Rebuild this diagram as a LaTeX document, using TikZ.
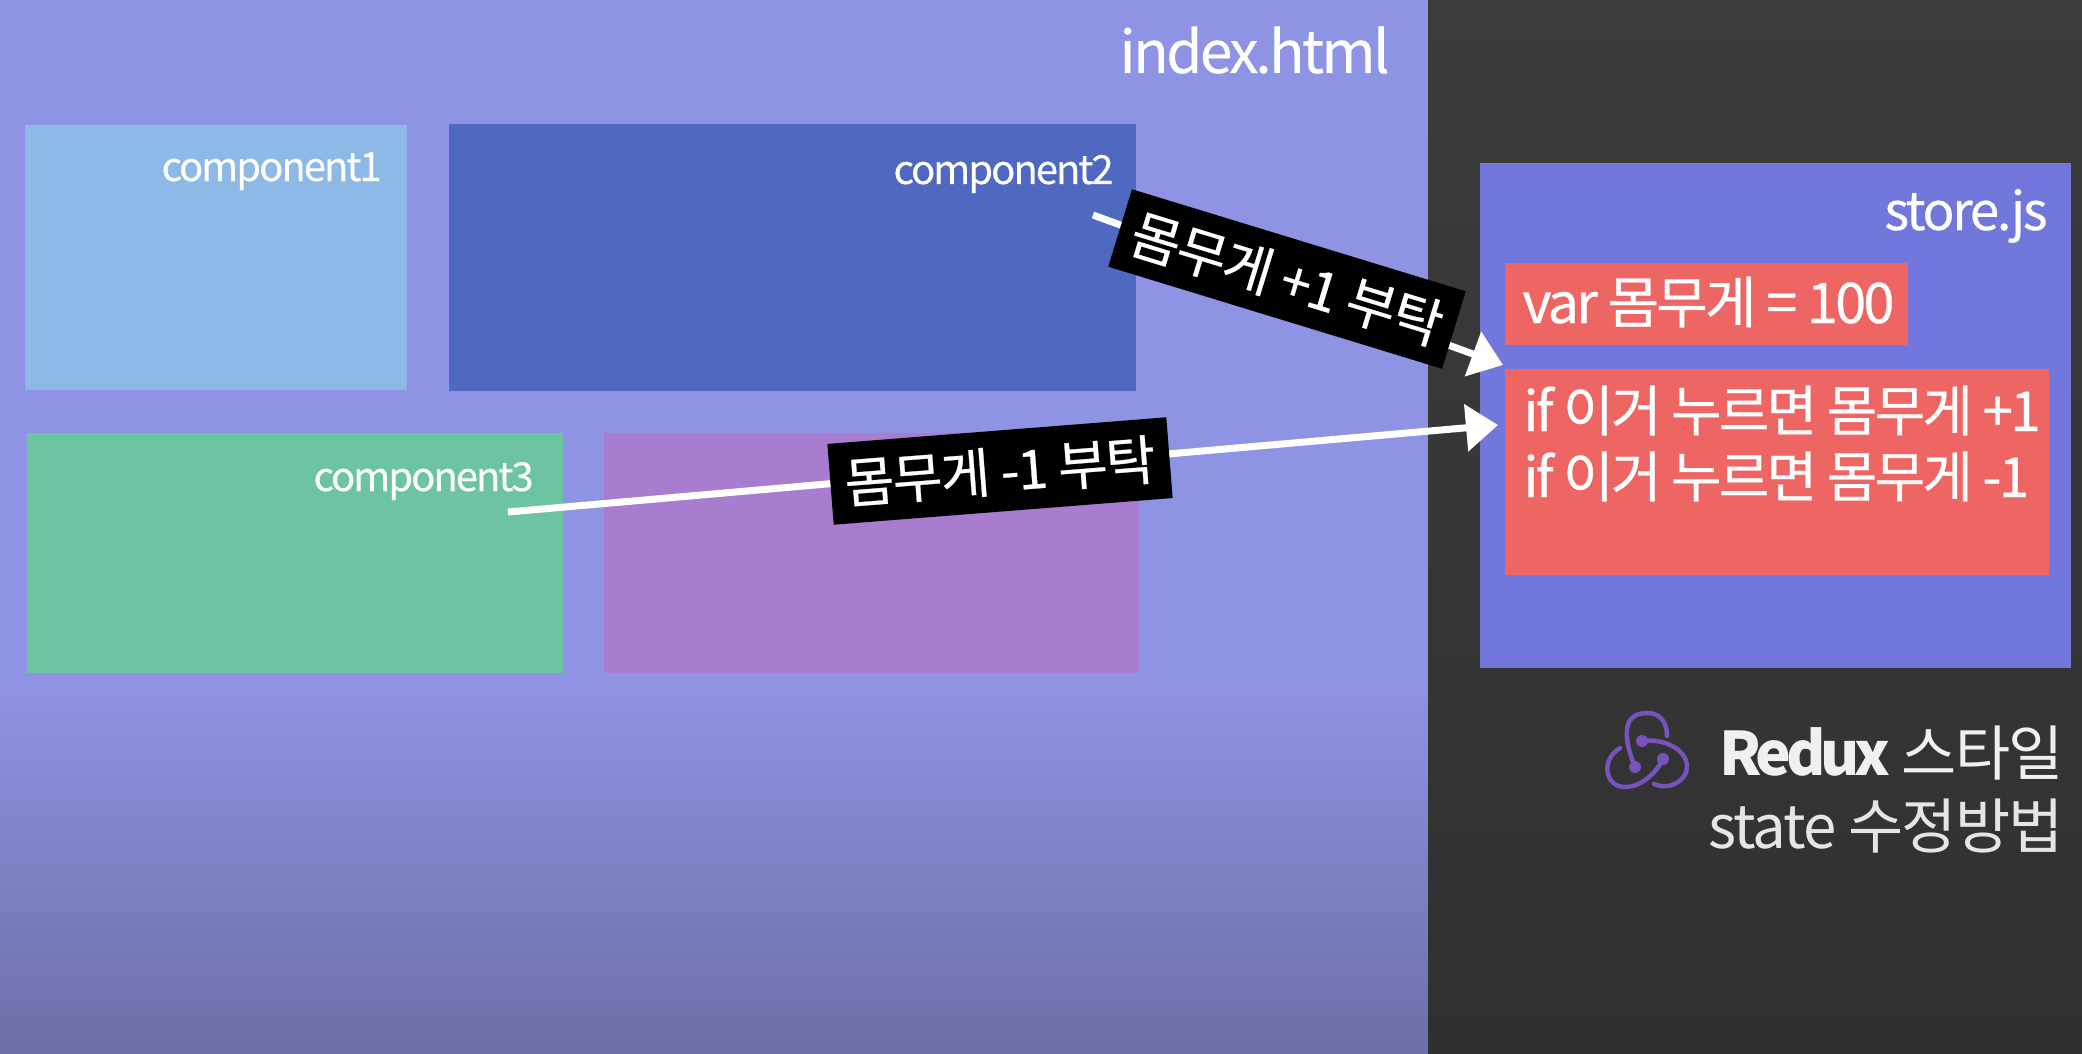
\documentclass[tikz,border=0pt]{standalone}
\usepackage{fontspec}
\setmainfont{Noto Sans CJK KR}[LetterSpace=-3]
\newfontfamily\fontName{Noto Sans CJK KR}[LetterSpace=-5,FakeBold=0.25]
\newfontfamily\fontTitle{Noto Sans CJK KR}[LetterSpace=-4.5,FakeBold=0.25]
\newfontfamily\fontCode{Noto Sans CJK KR}[LetterSpace=-5.1,FakeBold=0.4]
\newfontfamily\fontAsk{Noto Sans CJK KR}[LetterSpace=-3,FakeBold=0.5]
\newfontfamily\fontRedux{Noto Sans CJK KR}[LetterSpace=-9]
\usepackage{xcolor}
\definecolor{cPage}{HTML}{8F93E3}
\definecolor{cPageLow}{HTML}{6E6EA6}
\definecolor{cDark}{HTML}{3C3C3B}
\definecolor{cDarkLow}{HTML}{303030}
\definecolor{cOne}{HTML}{8CB9E5}
\definecolor{cTwo}{HTML}{5069C0}
\definecolor{cThree}{HTML}{6DC4A0}
\definecolor{cFour}{HTML}{A87CCF}
\definecolor{cStore}{HTML}{7277DC}
\definecolor{cRed}{HTML}{EE6664}
\definecolor{cRedux}{HTML}{7A52C0}
\usetikzlibrary{arrows.meta}
\tikzset{
  node-box/.style={inner sep=0pt,outer sep=0pt},
  node-name/.style={text=white,font=\fontName\fontsize{20}{20}\selectfont,anchor=base east,inner sep=0pt},
  node-title/.style={text=white,font=\fontTitle\fontsize{29.3}{29.3}\selectfont,anchor=base east,inner sep=0pt},
  node-code/.style={text=white,font=\fontCode\fontsize{27.5}{27.5}\selectfont,anchor=base west,inner sep=0pt},
  node-ask/.style={fill=black,text=white,font=\fontAsk\fontsize{27}{27}\selectfont,inner sep=0pt,
    minimum width=172pt,minimum height=40.5pt},
  node-side/.style={text=#1,font=\fontsize{30}{30}\selectfont,anchor=base east,inner sep=0pt},
  arrow/.style={-{Triangle[length=16pt,width=23pt]},line width=3.5pt,draw=white},
  logo/.style={draw=cRedux,line width=2.2pt,line cap=round},
}
\begin{document}
\begin{tikzpicture}[x=0.5pt,y=-0.5pt]
  \useasboundingbox (0,0) rectangle (2082,1054);
  % background
  \fill[cPage] (0,0) rectangle (1428,680);
  \shade[top color=cPage,bottom color=cPageLow] (0,680) rectangle (1428,1054);
  \shade[top color=cDark,bottom color=cDarkLow] (1428,0) rectangle (2082,1054);
  % boxes
  \node[node-box,fill=cOne,minimum width=191pt,minimum height=132.5pt]   (one)   at (216,257.5)  {};
  \node[node-box,fill=cTwo,minimum width=343.5pt,minimum height=133.5pt] (two)   at (792.5,257.5) {};
  \node[node-box,fill=cThree,minimum width=268pt,minimum height=120pt]   (three) at (295,553) {};
  \node[node-box,fill=cFour,minimum width=267.5pt,minimum height=120pt]  (four)  at (871.5,553) {};
  \node[node-box,fill=cStore,minimum width=295.5pt,minimum height=252.5pt] (store) at (1775.5,415.5) {};
  \node[node-box,fill=cRed,minimum width=201.5pt,minimum height=41pt]    (var)   at (1706.5,304) {};
  \node[node-box,fill=cRed,minimum width=272pt,minimum height=103pt]     (cond)  at (1777,472) {};
  % texts
  \node[node-title] (indexname) at (1390,73) {index.html};
  \node[node-name]  (onename)   at (382,181) {component1};
  \node[node-name]  (twoname)   at (1114,184) {component2};
  \node[node-name]  (threename) at (534,491) {component3};
  \node[node-title,font=\fontTitle\fontsize{26.5}{26.5}\selectfont] (storename) at (2048,230) {store.js};
  \node[node-code,font=\fontCode\fontsize{28}{28}\selectfont] (varcode) at (1522,323) {var 몸무게 = 100};
  \node[node-code]  (upcode)    at (1523,431) {if 이거 누르면 몸무게 +1};
  \node[node-code]  (downcode)  at (1523,497) {if 이거 누르면 몸무게 -1};
  \node[node-side=white!94!black] (reduxname) at (2064,775) {{\fontRedux\bfseries Redux} 스타일};
  \node[node-side=white!90!black] (fixname)   at (2064,848) {state 수정방법};
  % arrows
  \coordinate (upfrom)   at (1093,215);
  \coordinate (upto)     at (1503,365);
  \coordinate (downfrom) at (508,512);
  \coordinate (downto)   at (1498,425);
  \draw[arrow] (upfrom) -- (upto);
  \draw[arrow] (downfrom) -- (downto);
  \node[node-ask,minimum width=174.5pt,rotate=-17] (upask)   at (1287,279) {몸무게 +1 부탁};
  \node[node-ask,minimum width=170pt,rotate=4.5]   (downask) at (1000,471) {몸무게 -1 부탁};
  % redux logo
  \draw[logo] (1635,767) .. controls (1626,745) and (1618,713) .. (1647,713)
    .. controls (1660,713) and (1667,722) .. (1667,736);
  \draw[logo] (1642,741) .. controls (1665,738) and (1687,750) .. (1687,767)
    .. controls (1687,780) and (1670,791) .. (1654,784);
  \draw[logo] (1663,759) .. controls (1655,775) and (1640,787) .. (1625,787)
    .. controls (1605,787) and (1600,760) .. (1620,748);
  \fill[cRedux] (1642,741) circle (3pt) (1635,767) circle (3pt) (1663,759) circle (3pt);
\end{tikzpicture}
\end{document}
